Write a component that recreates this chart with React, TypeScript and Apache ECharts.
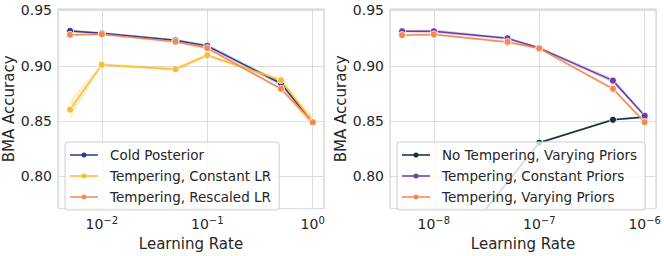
import React, { useEffect, useRef } from "react";
import * as echarts from "echarts";

// ---------- data ----------
const lrLeft = [0.005, 0.01, 0.05, 0.1, 0.5, 1];
const coldMean = [0.9315, 0.9294, 0.923, 0.918, 0.884, 0.849];
const coldStd = [0.0012, 0.0012, 0.0012, 0.0015, 0.002, 0.0015];
const constLrMean = [0.8604, 0.901, 0.8969, 0.9095, 0.887, 0.8496];
const constLrStd = [0.0085, 0.0012, 0.002, 0.0015, 0.002, 0.005];
const rescLrMean = [0.928, 0.9286, 0.9218, 0.916, 0.8792, 0.849];
const rescLrStd = [0.001, 0.001, 0.0012, 0.0012, 0.0015, 0.004];

const lrRight = [5e-9, 1e-8, 5e-8, 1e-7, 5e-7, 1e-6];
const noTempX = [1e-8, 1e-7, 5e-7, 1e-6];
const noTempMean = [0.712, 0.8305, 0.8513, 0.8537];
const noTempStd = [0.001, 0.001, 0.001, 0.001];
const constPriorMean = [0.9312, 0.9312, 0.9248, 0.916, 0.8866, 0.8549];
const constPriorStd = [0.0012, 0.0015, 0.0012, 0.0012, 0.002, 0.0015];
const varPriorMean = [0.9277, 0.9283, 0.9215, 0.9157, 0.8792, 0.849];
const varPriorStd = [0.001, 0.001, 0.0012, 0.0012, 0.0015, 0.0015];

const namesLeft = ["Cold Posterior", "Tempering, Constant LR", "Tempering, Rescaled LR"];
const namesRight = ["No Tempering, Varying Priors", "Tempering, Constant Priors", "Tempering, Varying Priors"];

const yTicks = [0.8, 0.85, 0.9, 0.95];

// ---------- style ----------
const C_NAVY = "#2b3a8c";
const C_YELLOW = "#fdbb2f";
const C_ORANGE = "#f7874f";
const C_PURPLE = "#6a3da0";
const C_TEAL = "#0f2f3f";
const FONT = "DejaVu Sans";
const TXT = "#262626";
const LEGEND_ICON = "path://M0,2.25h28v1.5h-28z M11.5,3a2.5,2.5 0 1,1 5,0a2.5,2.5 0 1,1 -5,0z";

const powLabel = (v: number) => {
  const e = Math.log10(v);
  const r = Math.round(e);
  if (Math.abs(e - r) > 1e-6) return "";
  const exp = r < 0 ? "\u2212" + String(-r) : String(r);
  return "{b|10}{s|" + exp + "}";
};
const yLabel = (v: number) => {
  const hit = yTicks.some((t) => Math.abs(t - v) < 1e-6);
  return hit ? v.toFixed(2) : "";
};

function band(xs: number[], mean: number[], std: number[], color: string, axisIndex: number) {
  return {
    type: "custom",
    xAxisIndex: axisIndex,
    yAxisIndex: axisIndex,
    clip: true,
    silent: true,
    data: [[xs[0], mean[0]]],
    renderItem: (_p: any, api: any) => {
      const pts: number[][] = [];
      for (let i = 0; i < xs.length; i++) pts.push(api.coord([xs[i], mean[i] + std[i]]));
      for (let i = xs.length - 1; i >= 0; i--) pts.push(api.coord([xs[i], mean[i] - std[i]]));
      return { type: "polygon", shape: { points: pts }, style: { fill: color, opacity: 0.25 } };
    },
    z: 1,
  };
}

function line(name: string, xs: number[], mean: number[], color: string, axisIndex: number) {
  return {
    type: "line",
    name,
    xAxisIndex: axisIndex,
    yAxisIndex: axisIndex,
    data: xs.map((x, i) => [x, mean[i]]),
    symbol: "circle",
    symbolSize: 7,
    showSymbol: true,
    lineStyle: { color, width: 1.5 },
    itemStyle: { color, borderColor: "#ffffff", borderWidth: 0.8 },
    emphasis: { disabled: true },
    z: 3,
  };
}

function xAxis(gridIndex: number, min: number, max: number) {
  return {
    type: "log",
    logBase: 10,
    gridIndex,
    min,
    max,
    name: "Learning Rate",
    nameLocation: "middle",
    nameGap: 22,
    nameTextStyle: { fontFamily: FONT, fontSize: 15, color: TXT },
    axisLine: { show: false },
    axisTick: { show: false },
    minorTick: { show: false },
    axisLabel: {
      formatter: powLabel,
      fontFamily: FONT,
      fontSize: 14,
      color: TXT,
      margin: 7,
      rich: {
        b: { fontFamily: FONT, fontSize: 14, color: TXT },
        s: { fontFamily: FONT, fontSize: 10, color: TXT, padding: [0, 0, 7, 0] },
      },
    },
    splitLine: { show: true, lineStyle: { color: "#dddddd", width: 1 } },
  };
}

function yAxis(gridIndex: number) {
  return {
    type: "value",
    gridIndex,
    min: 0.771,
    max: 0.9513,
    splitNumber: 4,
    name: "BMA Accuracy",
    nameLocation: "middle",
    nameGap: 39,
    nameTextStyle: { fontFamily: FONT, fontSize: 15, color: TXT },
    axisLine: { show: false },
    axisTick: { show: false },
    axisLabel: { formatter: yLabel, fontFamily: FONT, fontSize: 14, color: TXT, margin: 6 },
    splitLine: { show: true, lineStyle: { color: "#dddddd", width: 1 } },
  };
}

function legend(left: number, data: string[]) {
  return {
    orient: "vertical",
    left,
    top: 142,
    data: data.map((name) => ({ name, icon: LEGEND_ICON })),
    padding: [5, 8, 5, 5],
    itemGap: 5,
    itemWidth: 28,
    itemHeight: 5,
    backgroundColor: "rgba(255,255,255,0.8)",
    borderColor: "#cccccc",
    borderWidth: 1,
    borderRadius: 3,
    selectedMode: false,
    itemStyle: { borderWidth: 0 },
    textStyle: { fontFamily: FONT, fontSize: 13.5, color: TXT, padding: [0, 0, 0, 7], lineHeight: 16 },
  };
}

export default function App() {
  const ref = useRef<HTMLDivElement>(null);
  useEffect(() => {
    if (!ref.current) return;
    const chart = echarts.init(ref.current, null, { renderer: "svg" });
    chart.setOption({
      animation: false,
      backgroundColor: "#ffffff",
      textStyle: { fontFamily: FONT },
      grid: [
        { left: 58, top: 9, width: 266, height: 204, show: true, borderColor: "#cccccc", borderWidth: 1, backgroundColor: "transparent" },
        { left: 390, top: 9, width: 266, height: 204, show: true, borderColor: "#cccccc", borderWidth: 1, backgroundColor: "transparent" },
      ],
      xAxis: [xAxis(0, 0.00384, 1.28), xAxis(1, 3.84e-9, 1.28e-6)],
      yAxis: [yAxis(0), yAxis(1)],
      legend: [legend(65, namesLeft), legend(397, namesRight)],
      series: [
        band(lrLeft, coldMean, coldStd, C_NAVY, 0),
        band(lrLeft, constLrMean, constLrStd, C_YELLOW, 0),
        band(lrLeft, rescLrMean, rescLrStd, C_ORANGE, 0),
        band(noTempX, noTempMean, noTempStd, C_TEAL, 1),
        band(lrRight, constPriorMean, constPriorStd, C_PURPLE, 1),
        band(lrRight, varPriorMean, varPriorStd, C_ORANGE, 1),
        line(namesLeft[0], lrLeft, coldMean, C_NAVY, 0),
        line(namesLeft[1], lrLeft, constLrMean, C_YELLOW, 0),
        line(namesLeft[2], lrLeft, rescLrMean, C_ORANGE, 0),
        line(namesRight[0], noTempX, noTempMean, C_TEAL, 1),
        line(namesRight[1], lrRight, constPriorMean, C_PURPLE, 1),
        line(namesRight[2], lrRight, varPriorMean, C_ORANGE, 1),
      ],
    });
    return () => chart.dispose();
  }, []);
  return (
    <div
      ref={ref}
      style={{ position: "fixed", left: 0, top: 0, width: 664, height: 256, background: "#fff" }}
    />
  );
}
